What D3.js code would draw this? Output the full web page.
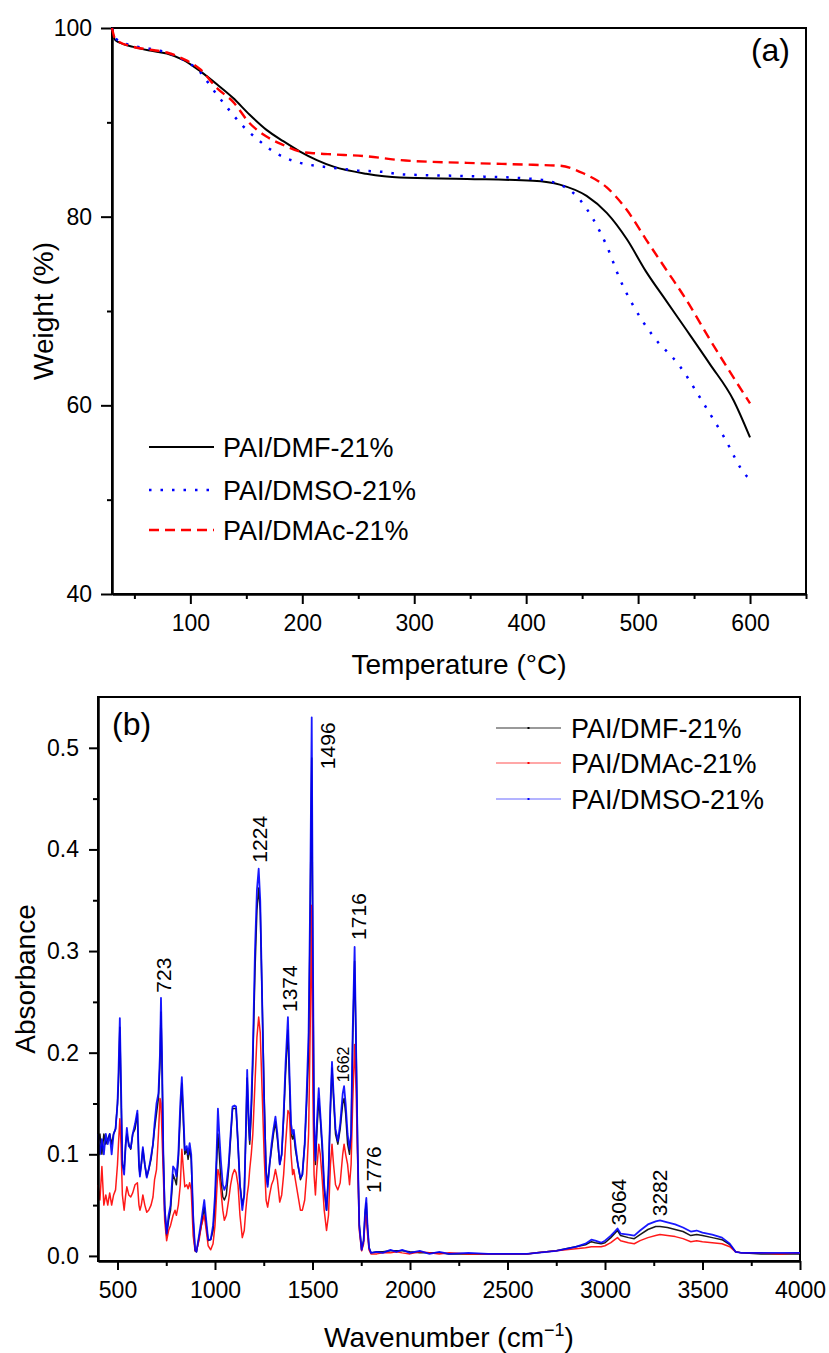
<!DOCTYPE html>
<html>
<head>
<meta charset="utf-8">
<script src="https://cdn.jsdelivr.net/npm/d3@7"></script>
<style>
  body { margin: 0; background: #fff; }
  text { font-family: Arial, "Liberation Sans", sans-serif; fill: #000; }
</style>
</head>
<body>
<div id="chart"></div>
<script>
// ---------- (a) TGA curves ----------
const dmfTemp = [30, 33, 49, 64, 79, 94, 109, 124, 138, 153, 168, 183, 198, 213, 228, 257, 287, 347, 406, 430, 454, 472, 490, 507, 525, 542, 564, 585, 600];
const dmfWeight = [99.8, 98.7, 98.0, 97.6, 97.3, 96.6, 95.4, 94.0, 92.6, 90.8, 89.2, 88.0, 86.9, 86.0, 85.3, 84.55, 84.15, 84.0, 83.8, 83.4, 82.2, 80.4, 77.6, 74.2, 71.1, 68.2, 64.4, 60.6, 56.6];

const dmsoTemp = [30, 33, 49, 64, 79, 94, 109, 117, 132, 147, 162, 177, 198, 219, 249, 276, 287, 347, 406, 430, 448, 460, 472, 484, 496, 513, 537, 558, 576, 597, 600];
const dmsoWeight = [100, 98.9, 98.1, 97.8, 97.4, 96.6, 95.3, 94.0, 91.7, 89.6, 88.0, 86.7, 85.7, 85.3, 84.9, 84.7, 84.5, 84.3, 84.0, 83.4, 81.8, 79.7, 76.9, 73.3, 70.5, 67.4, 64.2, 60.3, 56.8, 52.5, 52.2];

const dmacTemp = [30, 33, 49, 64, 79, 94, 109, 124, 138, 153, 168, 183, 198, 213, 228, 257, 287, 347, 406, 430, 451, 472, 490, 507, 525, 543, 564, 600];
const dmacWeight = [100, 98.8, 98.0, 97.7, 97.4, 96.7, 95.6, 93.6, 92.2, 89.9, 88.5, 87.6, 86.9, 86.7, 86.6, 86.4, 86.0, 85.7, 85.5, 85.4, 84.6, 83.1, 80.7, 77.6, 74.4, 71.2, 67.0, 60.2];

const tgaTicksX = [100, 200, 300, 400, 500, 600];
const tgaMinorX = [50, 150, 250, 350, 450, 550, 650];
const tgaTicksY = [40, 60, 80, 100];
const tgaMinorY = [50, 70, 90];

// ---------- (b) FTIR spectra ----------
const wavenumbers = [
  400, 410, 420, 430, 440, 450, 460, 470, 480, 490,
  500, 505, 512, 518, 525, 534, 542, 548, 558, 568,
  578, 590, 602, 610, 615, 622, 630, 640, 650, 660,
  672, 682, 690, 700, 710, 718, 723, 728, 735, 742,
  752, 762, 772, 785, 795, 802, 812, 822, 830, 838,
  845, 855, 862, 870, 878, 888, 898, 905, 918, 930,
  945, 955, 965, 978, 990, 1000, 1008, 1015, 1022, 1030,
  1040, 1048, 1058, 1070, 1080, 1090, 1100, 1108, 1118, 1128,
  1140, 1150, 1158, 1165, 1172, 1178, 1186, 1194, 1205, 1215,
  1224, 1232, 1242, 1252, 1262, 1270, 1280, 1290, 1300, 1310,
  1320, 1332, 1342, 1352, 1362, 1374, 1382, 1390, 1398, 1404,
  1412, 1425, 1438, 1448, 1460, 1470, 1480, 1488, 1496, 1502,
  1508, 1515, 1522, 1532, 1540, 1550, 1560, 1572, 1582, 1592,
  1600, 1608, 1618, 1630, 1642, 1655, 1662, 1670, 1680, 1690,
  1698, 1706, 1716, 1724, 1732, 1740, 1752, 1762, 1770, 1776,
  1782, 1790, 1800, 1830, 1860, 1900, 1930, 1960, 2000, 2050,
  2100, 2150, 2200, 2300, 2400, 2500, 2600, 2650, 2700, 2750,
  2800, 2850, 2900, 2930, 2950, 2980, 3000, 3030, 3050, 3064,
  3080, 3120, 3150, 3180, 3220, 3260, 3282, 3320, 3360, 3400,
  3440, 3470, 3500, 3550, 3600, 3640, 3670, 3700, 3800, 3900, 4000
];
const absDMF = [
  .11, .12, .10, .12, .11, .115, .12, .11, .12, .125,
  .15, .17, .225, .16, .09, .085, .11, .12, .11, .105,
  .12, .125, .14, .09, .08, .09, .105, .09, .078, .085,
  .095, .11, .125, .14, .155, .19, .24, .19, .1, .05,
  .02, .035, .045, .08, .075, .07, .095, .14, .17, .13,
  .1, .105, .095, .105, .095, .035, .005, .004, .018, .03,
  .048, .03, .015, .016, .025, .05, .09, .12, .1, .075,
  .058, .055, .06, .085, .115, .145, .145, .145, .11, .07,
  .05, .06, .12, .175, .13, .11, .14, .19, .28, .34,
  .362, .34, .25, .16, .085, .07, .09, .105, .12, .132,
  .115, .09, .1, .135, .18, .222, .17, .12, .115, .12,
  .105, .09, .075, .08, .11, .15, .2, .33, .49, .28,
  .13, .09, .12, .155, .135, .105, .065, .045, .08, .145,
  .185, .155, .12, .11, .125, .15, .155, .14, .11, .1,
  .12, .21, .29, .2, .1, .03, .006, .015, .042, .052,
  .028, .008, .003, .004, .004, .005, .005, .005, .004, .003,
  .003, .003, .002, .002, .002, .002, .002, .003, .004, .005,
  .007, .009, .011, .014, .013, .012, .013, .018, .022, .025,
  .02, .018, .017, .021, .026, .029, .029, .028, .026, .024,
  .02, .021, .02, .018, .016, .011, .004, .003, .002, .002, .002
];
const absDMAc = [
  .07, .055, .088, .05, .06, .05, .062, .05, .06, .065,
  .09, .11, .135, .11, .06, .045, .06, .068, .06, .058,
  .062, .07, .072, .05, .045, .05, .06, .05, .043, .045,
  .05, .058, .075, .085, .12, .155, .15, .12, .08, .035,
  .015, .025, .03, .04, .045, .04, .05, .07, .105, .085,
  .068, .07, .066, .072, .065, .02, .005, .005, .015, .03,
  .04, .025, .01, .006, .012, .03, .06, .085, .08, .065,
  .045, .035, .04, .055, .07, .08, .085, .082, .07, .04,
  .018, .025, .045, .06, .07, .085, .1, .12, .17, .215,
  .235, .22, .16, .1, .055, .048, .06, .07, .075, .085,
  .075, .053, .06, .08, .11, .143, .14, .1, .08, .085,
  .075, .06, .045, .045, .055, .08, .12, .22, .345, .16,
  .08, .06, .085, .11, .1, .075, .045, .025, .04, .09,
  .11, .09, .07, .065, .072, .1, .11, .1, .09, .07,
  .09, .15, .208, .16, .09, .025, .005, .012, .035, .04,
  .022, .006, .002, .002, .003, .003, .004, .003, .002, .004,
  .003, .002, .003, .002, .002, .002, .002, .003, .004, .005,
  .006, .007, .008, .009, .009, .009, .01, .013, .016, .018,
  .015, .013, .012, .015, .018, .02, .021, .02, .019, .017,
  .014, .015, .014, .013, .012, .009, .004, .003, .003, .002, .003
];
const absDMSO = [
  .12, .10, .115, .10, .12, .11, .12, .10, .12, .125,
  .15, .18, .234, .17, .09, .08, .11, .126, .108, .106,
  .12, .13, .143, .09, .078, .09, .107, .09, .077, .085,
  .098, .11, .13, .15, .16, .2, .254, .2, .1, .045,
  .022, .04, .05, .088, .085, .078, .1, .15, .176, .14,
  .104, .108, .1, .111, .1, .04, .006, .004, .02, .035,
  .055, .035, .016, .016, .03, .06, .1, .145, .12, .094,
  .07, .065, .07, .09, .12, .147, .148, .147, .11, .07,
  .045, .06, .12, .183, .14, .114, .15, .2, .3, .36,
  .381, .35, .25, .15, .08, .068, .09, .11, .125, .137,
  .12, .09, .1, .14, .19, .235, .18, .13, .12, .124,
  .11, .09, .077, .08, .11, .16, .22, .35, .53, .3,
  .13, .094, .13, .165, .14, .11, .07, .045, .08, .15,
  .191, .16, .125, .113, .13, .16, .167, .15, .12, .105,
  .12, .22, .304, .2, .1, .03, .006, .015, .045, .057,
  .03, .008, .003, .004, .003, .006, .004, .006, .003, .005,
  .002, .004, .002, .003, .002, .002, .002, .003, .004, .005,
  .007, .009, .012, .016, .015, .013, .015, .02, .024, .027,
  .022, .021, .02, .025, .031, .034, .035, .033, .031, .028,
  .024, .025, .023, .021, .018, .012, .004, .003, .003, .003, .003
];

// peak annotations: text, centre wavenumber, bottom of the text (absorbance), font size
const peakLabels = ["723", "1224", "1374", "1496", "1716", "1662", "1776", "3064", "3282"];
const peakWn = [738, 1231, 1383, 1577, 1736, 1658, 1815, 3069, 3282];
const peakAbs = [0.259, 0.387, 0.240, 0.479, 0.311, 0.171, 0.062, 0.030, 0.039];
const peakSize = [21, 21, 21, 21, 21, 16, 21, 21, 21];

const ftirTicksX = [500, 1000, 1500, 2000, 2500, 3000, 3500, 4000];
const ftirMinorX = [750, 1250, 1750, 2250, 2750, 3250, 3750];
const ftirTicksY = [0, 0.1, 0.2, 0.3, 0.4, 0.5];
const ftirMinorY = [0.05, 0.15, 0.25, 0.35, 0.45];

const width = 829;
const height = 1353;

const svg = d3.select("#chart")
  .append("svg")
  .attr("width", width)
  .attr("height", height)
  .style("background", "#fff");

// helper to style axis groups
function styleAxis(g, fontSize) {
  g.selectAll(".domain").attr("stroke", "#000").attr("stroke-width", 2.5);
  g.selectAll(".tick line").attr("stroke", "#000").attr("stroke-width", 2);
  g.selectAll(".tick text")
    .attr("fill", "#000")
    .style("font-size", fontSize + "px")
    .style("font-family", "Arial, 'Liberation Sans', sans-serif");
}

// =============== panel (a) ===============
const xT = d3.scaleLinear().domain([30, 650]).range([112, 806]);
const yT = d3.scaleLinear().domain([40, 100]).range([594, 28]);

// frame (top and right edges)
svg.append("rect")
  .attr("x", xT(30)).attr("y", yT(100))
  .attr("width", xT(650) - xT(30)).attr("height", yT(40) - yT(100))
  .attr("fill", "none").attr("stroke", "#000").attr("stroke-width", 2);

svg.append("g")
  .attr("transform", `translate(0,${yT(40)})`)
  .call(d3.axisBottom(xT).tickValues(tgaMinorX).tickSize(5).tickSizeOuter(0).tickFormat(""))
  .call(g => { styleAxis(g, 23); g.select(".domain").remove(); });
svg.append("g")
  .attr("transform", `translate(0,${yT(40)})`)
  .call(d3.axisBottom(xT).tickValues(tgaTicksX).tickSize(10).tickSizeOuter(0).tickPadding(11).tickFormat(d3.format("d")))
  .call(g => styleAxis(g, 23));

svg.append("g")
  .attr("transform", `translate(${xT(30)},0)`)
  .call(d3.axisLeft(yT).tickValues(tgaMinorY).tickSize(5).tickSizeOuter(0).tickFormat(""))
  .call(g => { styleAxis(g, 23); g.select(".domain").remove(); });
svg.append("g")
  .attr("transform", `translate(${xT(30)},0)`)
  .call(d3.axisLeft(yT).tickValues(tgaTicksY).tickSize(11).tickSizeOuter(0).tickPadding(9).tickFormat(d3.format("d")))
  .call(g => styleAxis(g, 23));

const tgaLine = d3.line()
  .x(d => xT(d[0]))
  .y(d => yT(d[1]))
  .curve(d3.curveMonotoneX);

const tgaSeries = [
  { name: "PAI/DMF-21%", t: dmfTemp, w: dmfWeight, color: "#000", dash: null, sw: 2 },
  { name: "PAI/DMSO-21%", t: dmsoTemp, w: dmsoWeight, color: "#0000ff", dash: "2.5,9", sw: 2.5 },
  { name: "PAI/DMAc-21%", t: dmacTemp, w: dmacWeight, color: "#ff0000", dash: "10,6", sw: 2.4 }
];

tgaSeries.forEach(s => {
  svg.append("path")
    .datum(s.t.map((t, i) => [t, s.w[i]]))
    .attr("d", tgaLine)
    .attr("fill", "none")
    .attr("stroke", s.color)
    .attr("stroke-width", s.sw)
    .attr("stroke-dasharray", s.dash);
});

// legend (a)
const legA = svg.append("g");
tgaSeries.forEach((s, i) => {
  const ly = [447, 490, 530][i];
  legA.append("line")
    .attr("x1", 149).attr("x2", 214).attr("y1", ly).attr("y2", ly)
    .attr("stroke", s.color).attr("stroke-width", s.sw)
    .attr("stroke-dasharray", s.dash);
  legA.append("text")
    .attr("x", 223).attr("y", ly + 10)
    .style("font-size", "27px")
    .text(s.name);
});

svg.append("text")
  .attr("x", 790).attr("y", 61)
  .attr("text-anchor", "end")
  .style("font-size", "32px")
  .text("(a)");

svg.append("text")
  .attr("transform", `translate(53,${(yT(40) + yT(100)) / 2}) rotate(-90)`)
  .attr("text-anchor", "middle")
  .style("font-size", "28px")
  .text("Weight (%)");

svg.append("text")
  .attr("x", (xT(30) + xT(650)) / 2).attr("y", 674)
  .attr("text-anchor", "middle")
  .style("font-size", "28px")
  .text("Temperature (°C)");

// =============== panel (b) ===============
const xF = d3.scaleLinear().domain([400, 4000]).range([98, 800]);
const yF = d3.scaleLinear().domain([-0.005, 0.55]).range([1261, 697]);

svg.append("rect")
  .attr("x", xF(400)).attr("y", yF(0.55))
  .attr("width", xF(4000) - xF(400)).attr("height", yF(-0.005) - yF(0.55))
  .attr("fill", "none").attr("stroke", "#000").attr("stroke-width", 2);

const ftirLine = d3.line()
  .x(d => xF(d[0]))
  .y(d => yF(d[1]));

const ftirSeries = [
  { name: "PAI/DMF-21%", v: absDMF, color: "#000000", legend: "#777", sw: 1.5 },
  { name: "PAI/DMAc-21%", v: absDMAc, color: "#ff0000", legend: "#ff8a8a", sw: 1.5 },
  { name: "PAI/DMSO-21%", v: absDMSO, color: "#0000ff", legend: "#9a9aff", sw: 1.8 }
];

// draw black, red, then blue on top
ftirSeries.forEach(s => {
  svg.append("path")
    .datum(wavenumbers.map((w, i) => [w, s.v[i]]))
    .attr("d", ftirLine)
    .attr("fill", "none")
    .attr("stroke", s.color)
    .attr("stroke-width", s.sw)
    .attr("stroke-linejoin", "round")
    .attr("stroke-opacity", 0.9);
});

svg.append("g")
  .attr("transform", `translate(0,${yF(-0.005)})`)
  .call(d3.axisBottom(xF).tickValues(ftirMinorX).tickSize(5).tickSizeOuter(0).tickFormat(""))
  .call(g => { styleAxis(g, 23); g.select(".domain").remove(); });
svg.append("g")
  .attr("transform", `translate(0,${yF(-0.005)})`)
  .call(d3.axisBottom(xF).tickValues(ftirTicksX).tickSize(9).tickSizeOuter(0).tickPadding(12).tickFormat(d3.format("d")))
  .call(g => styleAxis(g, 23));

svg.append("g")
  .attr("transform", `translate(${xF(400)},0)`)
  .call(d3.axisLeft(yF).tickValues(ftirMinorY).tickSize(5).tickSizeOuter(0).tickFormat(""))
  .call(g => { styleAxis(g, 23); g.select(".domain").remove(); });
svg.append("g")
  .attr("transform", `translate(${xF(400)},0)`)
  .call(d3.axisLeft(yF).tickValues(ftirTicksY).tickSize(9).tickSizeOuter(0).tickPadding(10).tickFormat(d3.format(".1f")))
  .call(g => styleAxis(g, 23));

// peak labels, rotated
peakLabels.forEach((t, i) => {
  svg.append("text")
    .attr("transform", `translate(${xF(peakWn[i])},${yF(peakAbs[i])}) rotate(-90)`)
    .attr("dy", "0.35em")
    .style("font-size", peakSize[i] + "px")
    .text(t);
});

// legend (b)
const legB = svg.append("g");
ftirSeries.forEach((s, i) => {
  const ly = [728, 763, 799][i];
  legB.append("line")
    .attr("x1", 496).attr("x2", 561).attr("y1", ly).attr("y2", ly)
    .attr("stroke", s.legend).attr("stroke-width", 1.3);
  legB.append("rect")
    .attr("x", 527.5).attr("y", ly - 1).attr("width", 2).attr("height", 2)
    .attr("fill", s.color);
  legB.append("text")
    .attr("x", 571).attr("y", ly + 10)
    .style("font-size", "27px")
    .text(s.name);
});

svg.append("text")
  .attr("x", 112).attr("y", 735)
  .style("font-size", "32px")
  .text("(b)");

svg.append("text")
  .attr("transform", `translate(35,${(yF(-0.005) + yF(0.55)) / 2}) rotate(-90)`)
  .attr("text-anchor", "middle")
  .style("font-size", "28px")
  .text("Absorbance");

const xTitle = svg.append("text")
  .attr("x", (xF(400) + xF(4000)) / 2).attr("y", 1347)
  .attr("text-anchor", "middle")
  .style("font-size", "28px");
xTitle.append("tspan").text("Wavenumber (cm");
xTitle.append("tspan").attr("dy", -11).style("font-size", "18px").text("−1");
xTitle.append("tspan").attr("dy", 11).text(")");
</script>
</body>
</html>
